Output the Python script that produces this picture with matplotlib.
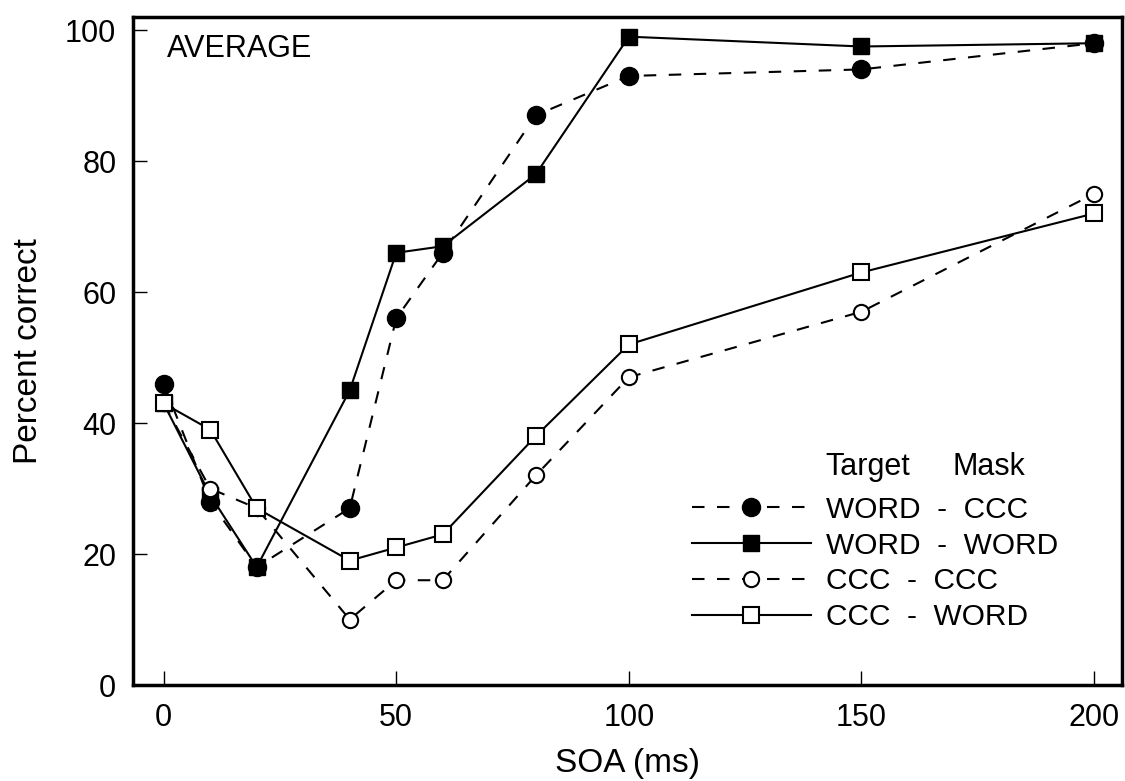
import numpy as np
import matplotlib
matplotlib.use('Agg')
import matplotlib.pyplot as plt

plt.rcParams['font.family'] = ['Liberation Sans', 'DejaVu Sans']

# SOA values (ms) and percent correct for each target-mask pair
soa = [0, 10, 20, 40, 50, 60, 80, 100, 150, 200]
word_ccc = [46, 28, 18, 27, 56, 66, 87, 93, 94, 98]
word_word = [43, 29, 18, 45, 66, 67, 78, 99, 97.5, 98]
ccc_ccc = [43, 30, 27, 10, 16, 16, 32, 47, 57, 75]
ccc_word = [43, 39, 27, 19, 21, 23, 38, 52, 63, 72]

labels = ['WORD  -  CCC', 'WORD  -  WORD', 'CCC  -  CCC', 'CCC  -  WORD']
xticks = [0, 50, 100, 150, 200]
yticks = [0, 20, 40, 60, 80, 100]

dash = (0, (6, 6))

fig = plt.figure(figsize=(11.25, 7.81), dpi=100)
ax = fig.add_axes([0.1182, 0.1229, 0.8791, 0.8553])

ax.plot(soa, word_ccc, linestyle=dash, color='black', lw=1.5,
        marker='o', ms=13, mfc='black', mec='black', label=labels[0])
ax.plot(soa, word_word, linestyle='-', color='black', lw=1.5,
        marker='s', ms=12, mfc='black', mec='black', label=labels[1])
ax.plot(soa, ccc_ccc, linestyle=dash, color='black', lw=1.5,
        marker='o', ms=11, mfc='white', mec='black', mew=1.5, label=labels[2])
ax.plot(soa, ccc_word, linestyle='-', color='black', lw=1.5,
        marker='s', ms=11.5, mfc='white', mec='black', mew=1.5, label=labels[3])

ax.set_xlim(-6.6, 206)
ax.set_ylim(0, 102)
ax.set_xticks(xticks)
ax.set_yticks(yticks)
ax.tick_params(direction='in', length=10, width=1, labelsize=22, pad=12)
ax.tick_params(axis='x', pad=13)
for s in ax.spines.values():
    s.set_linewidth(2.5)

ax.set_xlabel('SOA (ms)', fontsize=24, labelpad=11)
ax.set_ylabel('Percent correct', fontsize=24, labelpad=15)

ax.text(0.034, 0.975, 'AVERAGE', transform=ax.transAxes, fontsize=22,
        va='top', ha='left')

ax.text(0.6997, 0.326, 'Target', transform=ax.transAxes, fontsize=22,
        va='center', ha='left')
ax.text(0.829, 0.326, 'Mask', transform=ax.transAxes, fontsize=22,
        va='center', ha='left')

ax.legend(loc='center left', bbox_to_anchor=(0.565, 0.182), frameon=False,
          fontsize=21.5, handlelength=4.0, handletextpad=0.5, labelspacing=0.26,
          borderpad=0, borderaxespad=0)

fig.savefig('out.png', dpi=100)
